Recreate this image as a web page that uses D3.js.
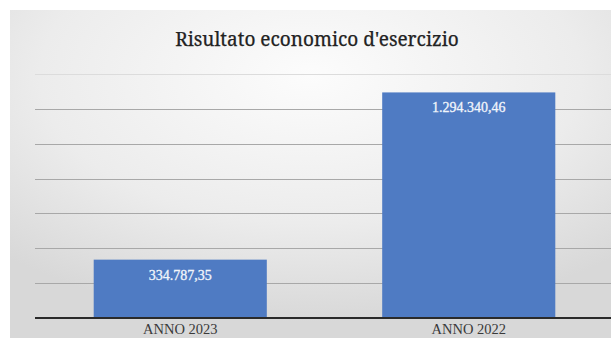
<!DOCTYPE html>
<html>
<head>
<meta charset="utf-8">
<script src="https://cdn.jsdelivr.net/npm/d3@7"></script>
<style>
    body { margin: 0; background: #fff; }
    svg { display: block; }
    text { font-family: "Liberation Serif", "Times New Roman", serif; }
    .title { font-family: "Noto Serif", "DejaVu Serif", serif; }
</style>
</head>
<body>
<div id="chart"></div>
<script>
const categories = ["ANNO 2023", "ANNO 2022"];
const values = [334787.35, 1294340.46];
const valueLabels = ["334.787,35", "1.294.340,46"];
const gridTicks = [0, 200000, 400000, 600000, 800000, 1000000, 1200000, 1400000];

const width = 611, height = 338;
const margin = { top: 74, right: -2, bottom: 20, left: 36 };

const svg = d3.select("#chart")
    .append("svg")
    .attr("width", width)
    .attr("height", height);

// background gradient, lighter in the middle top
const defs = svg.append("defs");
const grad = defs.append("radialGradient")
    .attr("id", "bg")
    .attr("cx", "50%").attr("cy", "20%")
    .attr("r", "75%");
grad.append("stop").attr("offset", "0%").attr("stop-color", "#fcfcfc");
grad.append("stop").attr("offset", "60%").attr("stop-color", "#ececec");
grad.append("stop").attr("offset", "100%").attr("stop-color", "#d8d8d8");

svg.append("rect")
    .attr("x", 10).attr("y", 10)
    .attr("width", width - 10).attr("height", height - 10)
    .attr("fill", "url(#bg)");

const x = d3.scaleBand()
    .domain(categories)
    .range([margin.left, width - margin.right])
    .paddingInner(0.4)
    .paddingOuter(0.2);

const y = d3.scaleLinear()
    .domain([0, 1400000])
    .range([height - margin.bottom, margin.top]);

// gridlines
svg.append("g")
    .selectAll("line")
    .data(gridTicks.slice(1))
    .join("line")
    .attr("x1", margin.left - 1)
    .attr("x2", width)
    .attr("y1", d => Math.round(y(d)) + 0.5)
    .attr("y2", d => Math.round(y(d)) + 0.5)
    .attr("stroke", (d, i) => i === gridTicks.length - 2 ? "#dcdcdc" : "#a8a8a8")
    .attr("stroke-width", 1);

// bars
svg.append("g")
    .selectAll("rect")
    .data(values)
    .join("rect")
    .attr("x", (d, i) => x(categories[i]))
    .attr("y", d => y(d))
    .attr("width", x.bandwidth())
    .attr("height", d => y(0) - y(d))
    .attr("fill", "#4f7bc3");

// value labels
svg.append("g")
    .selectAll("text")
    .data(values)
    .join("text")
    .attr("x", (d, i) => x(categories[i]) + x.bandwidth() / 2)
    .attr("y", d => y(d) + 20)
    .attr("text-anchor", "middle")
    .attr("font-size", 14)
    .attr("fill", "#f2f5fb")
    .attr("stroke", "#f2f5fb")
    .attr("stroke-width", 0.3)
    .text((d, i) => valueLabels[i]);

// baseline
svg.append("line")
    .attr("x1", margin.left - 1)
    .attr("x2", width)
    .attr("y1", y(0))
    .attr("y2", y(0))
    .attr("stroke", "#2a2a2a")
    .attr("stroke-width", 2);

// category labels
svg.append("g")
    .selectAll("text")
    .data(categories)
    .join("text")
    .attr("x", d => x(d) + x.bandwidth() / 2)
    .attr("y", 334)
    .attr("text-anchor", "middle")
    .attr("font-size", 14.5)
    .attr("fill", "#3a3a3a")
    .text(d => d);

// title
svg.append("text")
    .attr("class", "title")
    .attr("x", 317)
    .attr("y", 46)
    .attr("text-anchor", "middle")
    .attr("font-size", 19)
    .attr("fill", "#222")
    .attr("stroke", "#222")
    .attr("stroke-width", 0.25)
    .text("Risultato economico d'esercizio");
</script>
</body>
</html>
